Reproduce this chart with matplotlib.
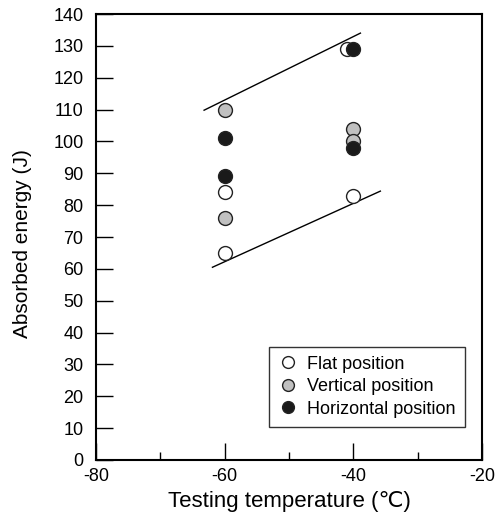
import numpy as np
import matplotlib.pyplot as plt
from matplotlib.ticker import MultipleLocator

plt.rcParams['font.family'] = ['Liberation Sans', 'DejaVu Sans']
plt.rcParams['axes.unicode_minus'] = False

# data
flat_t = [-60, -60, -41, -40]
flat_e = [65, 84, 129, 83]
vert_t = [-60, -60, -40, -40]
vert_e = [110, 76, 104, 100]
horiz_t = [-60, -60, -40, -40]
horiz_e = [101, 89, 98, 129]

upper_t = [-63.2, -38.9]
upper_e = [109.8, 134.0]
lower_t = [-61.9, -35.8]
lower_e = [60.5, 84.4]

fig = plt.figure(figsize=(4.99, 5.21), dpi=100)
ax = fig.add_axes([96 / 499, 61 / 521, 386 / 499, 446 / 521])

ax.plot(upper_t, upper_e, color='black', lw=1)
ax.plot(lower_t, lower_e, color='black', lw=1)

mk = dict(marker='o', ls='none', ms=10, mec='#222222', mew=1)
ax.plot(flat_t, flat_e, mfc='white', label='Flat position', **mk)
ax.plot(vert_t, vert_e, mfc='#c0c0c0', label='Vertical position', **mk)
ax.plot(horiz_t, horiz_e, mfc='#1a1a1a', label='Horizontal position', **mk)

ax.set_xlim(-80, -20)
ax.set_ylim(0, 140)
ax.xaxis.set_major_locator(MultipleLocator(20))
ax.xaxis.set_minor_locator(MultipleLocator(10))
ax.yaxis.set_major_locator(MultipleLocator(10))
ax.tick_params(which='major', direction='in', length=12, width=1, labelsize=13)
ax.tick_params(which='minor', direction='in', length=6, width=1)
ax.tick_params(axis='y', pad=9)
ax.tick_params(axis='x', pad=6)
for s in ax.spines.values():
    s.set_linewidth(1.5)

ax.set_xlabel('Testing temperature (\u2103)', fontsize=16, labelpad=4)
ax.set_ylabel('Absorbed energy (J)', fontsize=15)
ax.yaxis.set_label_coords(-0.165, 0.485)

leg = ax.legend(loc='lower right', bbox_to_anchor=(0.955, 0.075), fontsize=13,
                frameon=True, fancybox=False, edgecolor='black', handletextpad=0.5,
                labelspacing=0.3, borderpad=0.5, handlelength=1.1, numpoints=1,
                markerscale=0.85, borderaxespad=0)
leg.get_frame().set_linewidth(1)

fig.savefig('out.png', dpi=100)
